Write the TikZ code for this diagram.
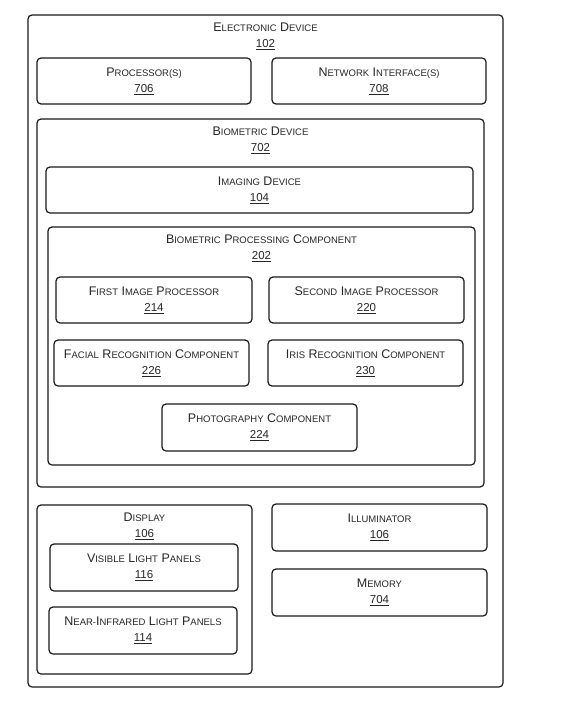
\documentclass[tikz,border=0pt]{standalone}
\usepackage{fontspec}
\setmainfont{Liberation Sans}
\newcommand{\smc}{\fontsize{9.5}{16}\selectfont}
\def\fscaux#1#2\relax{#1{\smc\MakeUppercase{#2}}}
\newcommand{\fsc}[1]{\fscaux#1\relax}
\newcommand{\partno}[1]{{\fontsize{11.5}{16}\selectfont\underline{#1}}}
\begin{document}
\begin{tikzpicture}
    [x=1pt,y=-1pt,every node/.style={draw=black!90,line width=1.2pt,rounded corners=4pt,
      align=center,inner sep=0pt,text=black!85,font=\fontsize{12.5}{16}\selectfont},
     box/.style 2 args={minimum width=#1,minimum height=#2},
     title/.style={draw=none}]
    \useasboundingbox (0,0) rectangle (579,714);
    % containers
    \node[box={475}{672}] (nElec) at (265.5,351) {};
    \node[title] (tElec) at (265.5,36) {\fsc{Electronic} \fsc{Device}\\\partno{102}};
    \node[box={447}{368}] (nBio) at (260.5,303) {};
    \node[title] (tBio) at (260.5,140) {\fsc{Biometric} \fsc{Device}\\\partno{702}};
    \node[box={427}{238}] (nBpc) at (261.5,346) {};
    \node[title] (tBpc) at (261.5,248) {\fsc{Biometric} \fsc{Processing} \fsc{Component}\\\partno{202}};
    \node[box={215}{169}] (nDisp) at (144.5,589.5) {};
    \node[title] (tDisp) at (144.5,526) {\fsc{Display}\\\partno{106}};
    % leaf boxes
    \node[box={214}{46}] (nProc) at (144,81) {\fsc{Processor(s)}\\\partno{706}};
    \node[box={214}{46}] (nNet) at (379,81) {\fsc{Network} \fsc{Interface(s)}\\\partno{708}};
    \node[box={427}{46}] (nImg) at (259.5,190) {\fsc{Imaging} \fsc{Device}\\\partno{104}};
    \node[box={196}{46}] (nFirst) at (154,300) {\fsc{First} \fsc{Image} \fsc{Processor}\\\partno{214}};
    \node[box={195}{46}] (nSecond) at (366.5,300) {\fsc{Second} \fsc{Image} \fsc{Processor}\\\partno{220}};
    \node[box={195}{46}] (nFace) at (151.5,363) {\fsc{Facial} \fsc{Recognition} \fsc{Component}\\\partno{226}};
    \node[box={195}{46}] (nIris) at (365.5,363) {\fsc{Iris} \fsc{Recognition} \fsc{Component}\\\partno{230}};
    \node[box={195}{47}] (nPhoto) at (259.5,427.5) {\fsc{Photography} \fsc{Component}\\\partno{224}};
    \node[box={188}{47}] (nVis) at (144,567.5) {\fsc{Visible} \fsc{Light} \fsc{Panels}\\\partno{116}};
    \node[box={188}{47}] (nNir) at (143,630.5) {\fsc{Near-}\fsc{Infrared} \fsc{Light} \fsc{Panels}\\\partno{114}};
    \node[box={215}{47}] (nIllum) at (379.5,527.5) {\fsc{Illuminator}\\\partno{106}};
    \node[box={215}{47}] (nMem) at (379.5,592.5) {\fsc{Memory}\\\partno{704}};
\end{tikzpicture}
\end{document}
